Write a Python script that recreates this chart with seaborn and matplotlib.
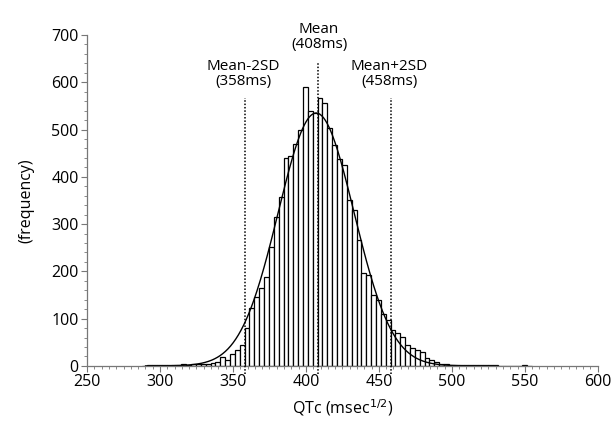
import numpy as np
import pandas as pd
import matplotlib
matplotlib.use("Agg")
import matplotlib.pyplot as plt
import seaborn as sns
from matplotlib.ticker import MultipleLocator

# ---------------- data ----------------
bin_start = 288.0          # left edge of first bin (ms)
bin_width = 10.0 / 3.0     # bin width (ms)
counts = [
    # 288 .. 358
    0, 1, 1, 2, 1, 2, 2, 2, 3, 2, 3, 4, 3, 5, 7, 9, 19, 13, 25, 33, 45,
    # 358 .. 408
    80, 122, 146, 165, 188, 252, 315, 357, 440, 445, 470, 500, 590, 540, 535,
    # 408 .. 458
    567, 556, 503, 467, 438, 425, 351, 330, 266, 196, 192, 150, 139, 110, 97,
    # 458 .. 531
    76, 70, 61, 45, 38, 33, 30, 16, 12, 8, 4, 3, 2, 2, 1, 2, 1, 1, 2, 1, 1, 1,
    # 531 .. 555
    0, 0, 0, 0, 0, 1, 0,
]
fit_mean = 407.0
fit_sd = 26.0
fit_peak = 535.0

ref_values = [358, 408, 458]
ref_labels = ["Mean-2SD\n(358ms)", "Mean\n(408ms)", "Mean+2SD\n(458ms)"]
ref_line_top = [566, 643, 566]

x_ticks = [250, 300, 350, 400, 450, 500, 550, 600]
y_ticks = [0, 100, 200, 300, 400, 500, 600, 700]

# ---------------- build table ----------------
n_bins = len(counts)
edges = bin_start + bin_width * np.arange(n_bins + 1)
centers = (edges[:-1] + edges[1:]) / 2
df = pd.DataFrame({"QTc": centers, "count": counts})

xs = np.linspace(290, 530, 400)
curve = pd.DataFrame({"x": xs,
                      "y": fit_peak * np.exp(-0.5 * ((xs - fit_mean) / fit_sd) ** 2)})

# ---------------- plot ----------------
sns.set_theme(style="ticks")
plt.rcParams["font.family"] = ["Open Sans", "DejaVu Sans"]
plt.rcParams["text.color"] = "black"
plt.rcParams["axes.labelcolor"] = "black"

fig = plt.figure(figsize=(6.15, 4.22), dpi=100)
ax = fig.add_axes([0.1415, 0.133, 0.8305, 0.784])

sns.histplot(data=df, x="QTc", weights="count", binwidth=bin_width,
             binrange=(float(edges[0]), float(edges[-1])), ax=ax,
             color="white", edgecolor="black", linewidth=0.9, alpha=1.0)
sns.lineplot(data=curve, x="x", y="y", ax=ax, color="black", linewidth=1.0)

for v, top in zip(ref_values, ref_line_top):
    ax.vlines(v, -18, top, colors="black", linestyles=(0, (1, 1.2)),
              linewidth=1.1, clip_on=False, zorder=5)

ax.text(ref_values[0] - 1, 586, ref_labels[0], ha="center", va="bottom",
        fontsize=11, linespacing=1.0)
ax.text(ref_values[1] + 1, 665, ref_labels[1], ha="center", va="bottom",
        fontsize=11, linespacing=1.0, clip_on=False)
ax.text(ref_values[2] - 1, 586, ref_labels[2], ha="center", va="bottom",
        fontsize=11, linespacing=1.0)

ax.set_xlim(250, 600)
ax.set_ylim(0, 700)
ax.set_xticks(x_ticks)
ax.set_yticks(y_ticks)
ax.xaxis.set_minor_locator(MultipleLocator(5))
ax.yaxis.set_minor_locator(MultipleLocator(20))
ax.tick_params(axis="both", which="major", length=4, width=0.8,
               color="#777777", labelsize=11.5, labelcolor="black", pad=2)
ax.tick_params(axis="both", which="minor", length=2, width=0.6, color="#777777")

for s in ["top", "right"]:
    ax.spines[s].set_visible(False)
for s in ["left", "bottom"]:
    ax.spines[s].set_color("#777777")
    ax.spines[s].set_linewidth(0.9)

ax.set_xlabel("QTc (msec$^{1/2}$)", fontsize=11.5, labelpad=5)
ax.set_ylabel("(frequency)", fontsize=11.5, labelpad=12)

fig.savefig("out.png", dpi=100)
